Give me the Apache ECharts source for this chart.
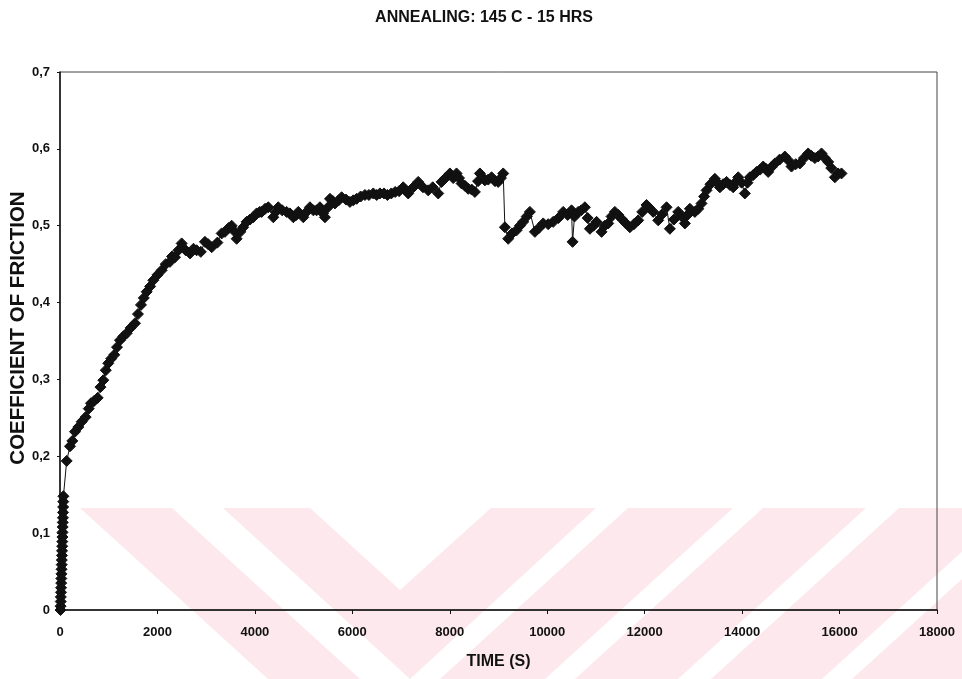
<!DOCTYPE html>
<html>
<head>
<meta charset="utf-8">
<title>Annealing 145 C - 15 hrs</title>
<script src="https://cdn.jsdelivr.net/npm/echarts@6/dist/echarts.min.js"></script>
<style>
  html, body { margin: 0; padding: 0; background: #ffffff; }
  #chart { width: 962px; height: 679px; }
</style>
</head>
<body>
<div id="chart"></div>
<script>
// Friction test record: time (s) and coefficient of friction
const timeSec = [
  10, 12, 15, 17, 20, 22, 25, 27, 30, 32, 35, 37, 40, 42, 45, 47, 50, 52, 55, 57, 60, 62, 65, 67, 70,
  137, 205, 253, 308, 376, 445, 527, 590, 636, 700, 773, 830, 889, 940, 991, 1050, 1114, 1170, 1231,
  1300, 1368, 1450, 1539, 1600, 1662, 1720, 1779, 1850, 1915, 2000, 2087, 2170, 2257, 2300, 2360,
  2430, 2497, 2580, 2668, 2740, 2805, 2890, 2975, 3040, 3113, 3230, 3318, 3386, 3460, 3523, 3590,
  3625, 3700, 3760, 3830, 3900, 3967, 4036, 4100, 4139, 4210, 4275, 4378, 4430, 4480, 4560, 4652,
  4720, 4789, 4850, 4891, 4994, 5060, 5130, 5200, 5267, 5335, 5400, 5438, 5500, 5541, 5600, 5643,
  5720, 5780, 5870, 5951, 6020, 6088, 6170, 6259, 6340, 6430, 6500, 6566, 6650, 6720, 6800, 6880,
  6960, 7045, 7100, 7147, 7250, 7352, 7450, 7557, 7650, 7763, 7831, 7910, 8002, 8070, 8139, 8190,
  8242, 8310, 8378, 8450, 8515, 8580, 8618, 8670, 8721, 8790, 8858, 8930, 8994, 9050, 9097, 9131,
  9199, 9280, 9371, 9440, 9507, 9580, 9644, 9747, 9830, 9918, 10020, 10123, 10230, 10328, 10420,
  10499, 10520, 10560, 10636, 10700, 10773, 10830, 10876, 10950, 11013, 11115, 11180, 11252, 11320,
  11388, 11460, 11525, 11600, 11696, 11780, 11867, 11950, 12038, 12100, 12175, 12278, 12360, 12449,
  12517, 12600, 12688, 12760, 12825, 12880, 12928, 13030, 13100, 13167, 13220, 13270, 13350, 13441,
  13490, 13544, 13610, 13681, 13750, 13817, 13870, 13920, 13990, 14056, 14110, 14159, 14230, 14296,
  14370, 14433, 14490, 14535, 14600, 14672, 14770, 14877, 14950, 15014, 15100, 15185, 15270, 15356,
  15420, 15493, 15560, 15630, 15700, 15767, 15830, 15904, 15970, 16040
];
const friction = [
  0.000, 0.005, 0.011, 0.017, 0.023, 0.029, 0.035, 0.041, 0.047, 0.053, 0.059, 0.065, 0.071, 0.077,
  0.083, 0.089, 0.095, 0.101, 0.108, 0.114, 0.120, 0.127, 0.134, 0.141, 0.148,
  0.194, 0.213, 0.220, 0.232, 0.238, 0.245, 0.251, 0.262, 0.269, 0.272, 0.276, 0.290, 0.299, 0.312,
  0.321, 0.327, 0.332, 0.342, 0.351, 0.356, 0.360, 0.367, 0.373, 0.385, 0.397, 0.406, 0.414, 0.421,
  0.429, 0.436, 0.442, 0.450, 0.453, 0.460, 0.459, 0.468, 0.477, 0.468, 0.464, 0.470, 0.468, 0.466,
  0.479, 0.476, 0.472, 0.478, 0.490, 0.492, 0.497, 0.500, 0.492, 0.483, 0.492, 0.498, 0.505, 0.508,
  0.511, 0.516, 0.518, 0.518, 0.522, 0.524, 0.511, 0.518, 0.524, 0.520, 0.518, 0.516, 0.511, 0.514,
  0.518, 0.511, 0.518, 0.524, 0.520, 0.520, 0.524, 0.516, 0.511, 0.524, 0.535, 0.532, 0.529, 0.533,
  0.537, 0.534, 0.531, 0.533, 0.535, 0.538, 0.540, 0.540, 0.542, 0.540, 0.542, 0.542, 0.540, 0.542,
  0.544, 0.545, 0.550, 0.546, 0.542, 0.550, 0.557, 0.550, 0.546, 0.550, 0.542, 0.557, 0.562, 0.568,
  0.562, 0.568, 0.562, 0.555, 0.552, 0.548, 0.547, 0.544, 0.558, 0.568, 0.563, 0.559, 0.560, 0.563,
  0.558, 0.557, 0.562, 0.568, 0.498, 0.483, 0.490, 0.494, 0.500, 0.505, 0.512, 0.518, 0.492, 0.497,
  0.503, 0.502, 0.505, 0.510, 0.518, 0.514, 0.520, 0.479, 0.512, 0.518, 0.520, 0.524, 0.510, 0.496,
  0.500, 0.505, 0.492, 0.500, 0.503, 0.512, 0.518, 0.514, 0.509, 0.504, 0.498, 0.502, 0.507, 0.518,
  0.527, 0.523, 0.518, 0.507, 0.515, 0.524, 0.496, 0.508, 0.518, 0.512, 0.503, 0.514, 0.522, 0.518,
  0.522, 0.529, 0.538, 0.546, 0.554, 0.561, 0.556, 0.550, 0.554, 0.557, 0.553, 0.550, 0.557, 0.563,
  0.556, 0.542, 0.556, 0.563, 0.566, 0.570, 0.573, 0.577, 0.574, 0.570, 0.576, 0.581, 0.586, 0.590,
  0.585, 0.577, 0.580, 0.581, 0.588, 0.594, 0.591, 0.588, 0.590, 0.594, 0.588, 0.583, 0.575, 0.563,
  0.568, 0.568
];

// Axis settings
const xMin = 0, xMax = 18000, xStep = 2000;
const yMin = 0, yMax = 0.7, yStep = 0.1;

const titleText = 'ANNEALING: 145 C - 15 HRS';
const xName = 'TIME (S)';
const yName = 'COEFFICIENT OF FRICTION';

const points = timeSec.map((t, i) => [t, friction[i]]);

const FONT = "'Liberation Sans', Arial, sans-serif";
const INK = '#111111';
const STRIPE = '#fde9ed';

// Pale diagonal band decoration along the lower part of the page
const bandShapes = [
  [[80, 508], [172, 508], [360, 679], [268, 679]],
  [[223, 508], [310, 508], [400, 590], [491, 508], [596, 508], [410, 679], [410, 679]],
  [[628, 508], [733, 508], [545, 679], [440, 679]],
  [[763, 508], [866, 508], [678, 679], [575, 679]],
  [[899, 508], [1010, 508], [822, 679], [711, 679]],
  [[1040, 508], [1150, 508], [962, 679], [852, 679]]
];

const chart = echarts.init(document.getElementById('chart'), null, { renderer: 'canvas' });

const decorations = bandShapes.map(pts => ({
  type: 'polygon',
  z: -10,
  silent: true,
  shape: { points: pts },
  style: { fill: STRIPE }
}));

// Vertical axis caption, placed beside the value labels
decorations.push({
  type: 'text',
  x: 18,
  y: 328,
  rotation: Math.PI / 2,
  silent: true,
  z: 10,
  style: {
    text: yName,
    fontFamily: FONT,
    fontSize: 20.5,
    fontWeight: 'bold',
    fill: INK,
    align: 'center',
    verticalAlign: 'middle'
  }
});

chart.setOption({
  backgroundColor: '#ffffff',
  animation: false,
  title: {
    text: titleText,
    left: 479,
    top: 5,
    textAlign: 'center',
    textStyle: { fontFamily: FONT, fontSize: 16, fontWeight: 'bold', color: INK }
  },
  graphic: decorations,
  grid: {
    left: 60, right: 25, top: 72, bottom: 69,
    show: true,
    borderColor: '#444',
    borderWidth: 1,
    backgroundColor: 'transparent'
  },
  xAxis: {
    type: 'value',
    min: xMin, max: xMax, interval: xStep,
    name: xName,
    nameLocation: 'middle',
    nameGap: 44,
    nameTextStyle: { fontFamily: FONT, fontSize: 16, fontWeight: 'bold', color: INK },
    axisLine: { lineStyle: { color: INK, width: 1.5 } },
    axisTick: { show: true, inside: false, length: 4, lineStyle: { color: INK } },
    axisLabel: {
      fontFamily: FONT, fontSize: 13, fontWeight: 'bold', color: INK, margin: 16,
      formatter: v => String(v)
    },
    splitLine: { show: false }
  },
  yAxis: {
    type: 'value',
    min: yMin, max: yMax, interval: yStep,
    axisLine: { show: true, lineStyle: { color: INK, width: 1.5 } },
    axisTick: { show: true, inside: false, length: 3, lineStyle: { color: INK } },
    axisLabel: {
      fontFamily: FONT, fontSize: 13, fontWeight: 'bold', color: INK, margin: 10,
      formatter: v => (v === 0 ? '0' : v.toFixed(1).replace('.', ','))
    },
    splitLine: { show: false }
  },
  series: [{
    type: 'line',
    data: points,
    symbol: 'diamond',
    symbolSize: 11,
    showAllSymbol: true,
    lineStyle: { color: INK, width: 1 },
    itemStyle: { color: INK, borderColor: INK },
    z: 5
  }]
});
</script>
</body>
</html>
